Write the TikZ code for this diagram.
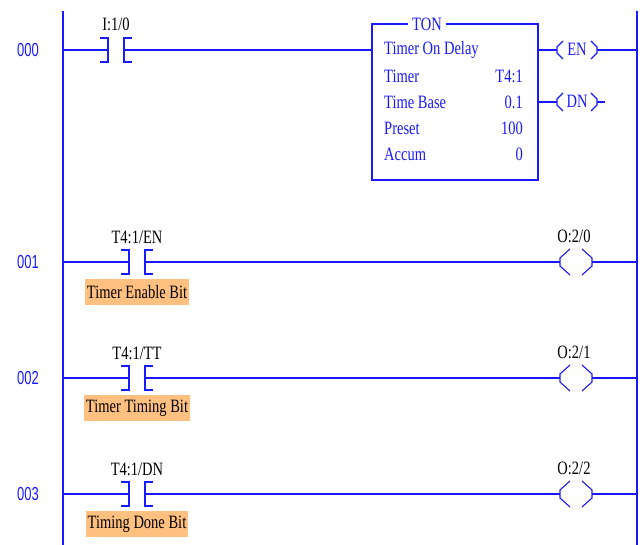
\documentclass[tikz,border=0pt]{standalone}
\usepackage{fontspec}
\setmainfont{Liberation Serif}
\newfontfamily\numfont{Liberation Sans}
\definecolor{ladder}{RGB}{25,25,255}
\definecolor{tagbg}{RGB}{255,192,128}
\newcommand\tall[1]{\scalebox{1}[1.3]{#1}}
\newcommand\taller[1]{\scalebox{1}[1.45]{#1}}
\tikzset{
  wire/.style={ladder, line width=1.6pt},
  thinwire/.style={ladder, line width=1.1pt},
  rungnum/.style={text=ladder, font=\numfont\fontsize{13}{13}\selectfont, inner sep=0pt},
  addr/.style={text=black, font=\fontsize{14.5}{14.5}\selectfont, inner sep=0pt},
  boxtxt/.style={text=ladder, font=\fontsize{14.5}{14.5}\selectfont, inner sep=0pt},
  tagbox/.style={fill=tagbg, text=black, font=\fontsize{14.5}{14.5}\selectfont, inner xsep=2pt, inner ysep=0pt, minimum height=26pt},
  contact/.pic={
    \coordinate (-l) at (-8,0);
    \coordinate (-r) at (8,0);
    \draw[wire] (-16,-12) -- (-8,-12) -- (-8,12) -- (-16,12);
    \draw[wire] (16,-12) -- (8,-12) -- (8,12) -- (16,12);
  },
  coil/.pic={
    \coordinate (-l) at (-16,0);
    \coordinate (-r) at (16,0);
    \draw[thinwire] (-6,-13) -- (-16,-4) -- (-16,4) -- (-6,13);
    \draw[thinwire] (6,-13) -- (16,-4) -- (16,4) -- (6,13);
  },
  smallcoil/.pic={
    \coordinate (-l) at (-20,0);
    \coordinate (-r) at (20,0);
    \draw[thinwire] (-14,-9) -- (-20,-3) -- (-20,3) -- (-14,9);
    \draw[thinwire] (14,-9) -- (20,-3) -- (20,3) -- (14,9);
  }
}
\begin{document}
\begin{tikzpicture}[x=1pt,y=-1pt]
\useasboundingbox (0,0) rectangle (641,545);
% rails
\coordinate (LT) at (63,11);
\coordinate (LB) at (63,545);
\coordinate (RT) at (637,11);
\coordinate (RB) at (637,545);
\draw[wire] (LT) -- (LB);
\draw[wire] (RT) -- (RB);
% rung numbers
\node[rungnum] (n0) at (28,50) {\taller{000}};
\node[rungnum] (n1) at (28,262) {\taller{001}};
\node[rungnum] (n2) at (28,378) {\taller{002}};
\node[rungnum] (n3) at (28,494) {\taller{003}};
% rung 000
\coordinate (L0) at (63,50);
\pic (c0) at (116,50) {contact};
\node[addr] (a0) at (116,24) {\tall{I:1/0}};
\draw[thinwire] (372,24) rectangle (538,180);
\node[boxtxt, fill=white, inner xsep=4pt] (ton) at (427,24) {\tall{TON}};
\coordinate (boxin) at (372,50);
\coordinate (boxen) at (538,50);
\coordinate (boxdn) at (538,102);
\node[boxtxt, anchor=west] (t1) at (384,50) {\tall{Timer On Delay}};
\node[boxtxt, anchor=west] (t2) at (384,76) {\tall{Timer}};
\node[boxtxt, anchor=west] (t3) at (384,102) {\tall{Time Base}};
\node[boxtxt, anchor=west] (t4) at (384,128) {\tall{Preset}};
\node[boxtxt, anchor=west] (t5) at (384,154) {\tall{Accum}};
\node[boxtxt, anchor=east] (v2) at (523,76) {\tall{T4:1}};
\node[boxtxt, anchor=east] (v3) at (523,102) {\tall{0.1}};
\node[boxtxt, anchor=east] (v4) at (523,128) {\tall{100}};
\node[boxtxt, anchor=east] (v5) at (523,154) {\tall{0}};
\pic (en) at (577,50) {smallcoil};
\node[boxtxt] (ent) at (577,49) {\tall{EN}};
\pic (dn) at (577,102) {smallcoil};
\node[boxtxt] (dnt) at (577,101) {\tall{DN}};
\coordinate (R0) at (637,50);
\coordinate (dnend) at (605,102);
\draw[wire] (L0) -- (c0-l);
\draw[wire] (c0-r) -- (boxin);
\draw[wire] (boxen) -- (en-l);
\draw[wire] (en-r) -- (R0);
\draw[wire] (boxdn) -- (dn-l);
\draw[wire] (dn-r) -- (dnend);
% rungs 001-003
\foreach \i/\y/\tg/\bit/\out in {1/262/EN/Timer Enable Bit/0, 2/378/TT/Timer Timing Bit/1, 3/494/DN/Timing Done Bit/2}{
  \coordinate (L\i) at (63,\y);
  \coordinate (R\i) at (637,\y);
  \pic (c\i) at (137,\y) {contact};
  \node[addr] (a\i) at (137,\y-25) {\tall{T4:1/\tg}};
  \node[tagbox] (tag\i) at (137,\y+30) {\tall{\bit}};
  \pic (o\i) at (576,\y) {coil};
  \node[addr] (oa\i) at (574,\y-26) {\tall{O:2/\out}};
  \draw[wire] (L\i) -- (c\i-l);
  \draw[wire] (c\i-r) -- (o\i-l);
  \draw[wire] (o\i-r) -- (R\i);
}
\end{tikzpicture}
\end{document}
